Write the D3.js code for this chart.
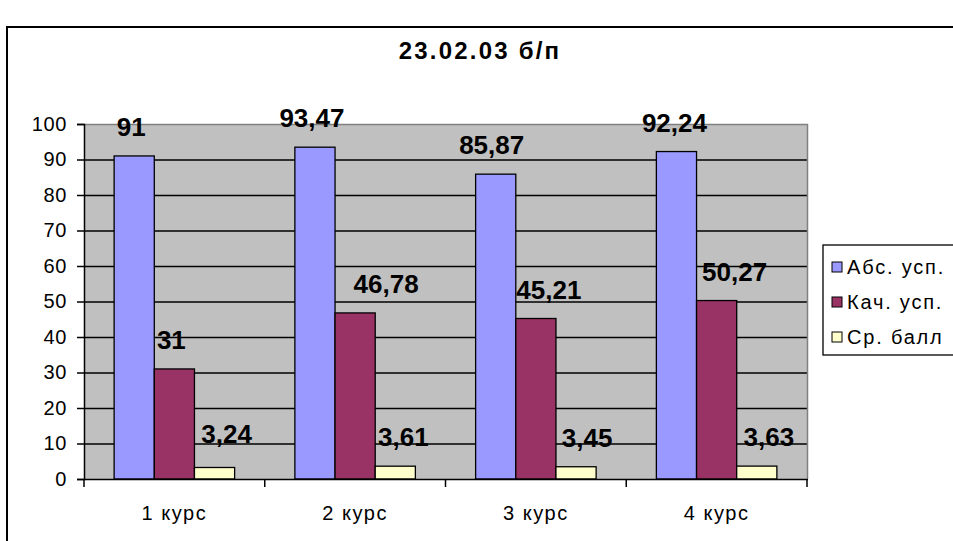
<!DOCTYPE html>
<html>
<head>
<meta charset="utf-8">
<script src="https://cdn.jsdelivr.net/npm/d3@7"></script>
<style>
  html, body { margin: 0; padding: 0; background: #fff; }
  svg { display: block; }
  text { font-family: "Liberation Sans", Arial, sans-serif; }
</style>
</head>
<body>
<svg id="chart" width="953" height="541"></svg>
<script>
const title = "23.02.03 б/п";
const categories = ["1 курс", "2 курс", "3 курс", "4 курс"];
const seriesNames = ["Абс. усп.", "Кач. усп.", "Ср. балл"];
const absValues = [91, 93.47, 85.87, 92.24];
const qualValues = [31, 46.78, 45.21, 50.27];
const avgValues = [3.24, 3.61, 3.45, 3.63];
const valueLabels = [
  ["91", "93,47", "85,87", "92,24"],
  ["31", "46,78", "45,21", "50,27"],
  ["3,24", "3,61", "3,45", "3,63"]
];
const yTicks = [0, 10, 20, 30, 40, 50, 60, 70, 80, 90, 100];
const colors = ["#9999FF", "#993366", "#FFFFCC"];
// manual label nudges (as dragged in the original)
const labelDx = [[-3, -3, -4, -2], [-3, 31, 13, 18], [12, 8, 11, 12]];
const labelDy = [[0, 0, 0, 0], [0, 0, 0, 0], [-4, 0, 0, 0]];

const seriesValues = [absValues, qualValues, avgValues];

const svg = d3.select("#chart");
const plot = { left: 84, right: 807, top: 124, bottom: 479 };

// outer frame
svg.append("rect").attr("x", 7).attr("y", 27).attr("width", 970).attr("height", 540)
  .attr("fill", "#fff").attr("stroke", "#000").attr("stroke-width", 2);

// title
svg.append("text").attr("x", 480).attr("y", 59).attr("text-anchor", "middle")
  .attr("font-size", 24).attr("font-weight", "bold").attr("letter-spacing", 2.2).text(title);

const x0 = d3.scaleBand().domain(categories).range([plot.left, plot.right]).padding(0);
const x1 = d3.scaleBand().domain(d3.range(seriesNames.length)).range([0, x0.bandwidth()])
  .paddingInner(0).paddingOuter(0.75);
const y = d3.scaleLinear().domain([0, 100]).range([plot.bottom, plot.top]);

// plot background
svg.append("rect").attr("x", plot.left).attr("y", plot.top)
  .attr("width", plot.right - plot.left).attr("height", plot.bottom - plot.top)
  .attr("fill", "#C0C0C0");

// gridlines
svg.append("g").selectAll("line").data(yTicks.filter(t => t > 0 && t < 100)).join("line")
  .attr("x1", plot.left).attr("x2", plot.right)
  .attr("y1", d => y(d) + 0.5).attr("y2", d => y(d) + 0.5)
  .attr("stroke", "#000").attr("stroke-width", 1.3);

// plot border (top, right) gray
svg.append("path")
  .attr("d", `M${plot.left},${plot.top + 0.5}H${plot.right + 0.5}V${plot.bottom}`)
  .attr("fill", "none").attr("stroke", "#808080").attr("stroke-width", 1.5);

// bars
seriesValues.forEach((vals, si) => {
  svg.append("g").selectAll("rect").data(vals).join("rect")
    .attr("x", (d, i) => x0(categories[i]) + x1(si))
    .attr("y", d => y(d))
    .attr("width", x1.bandwidth())
    .attr("height", d => y(0) - y(d))
    .attr("fill", colors[si]).attr("stroke", "#000").attr("stroke-width", 1.3);
});

// y axis
const yAxis = d3.axisLeft(y).tickValues(yTicks).tickSize(7).tickPadding(10).tickFormat(d3.format("d"));
const gy = svg.append("g").attr("transform", `translate(${plot.left},0)`).call(yAxis);
gy.select(".domain").attr("stroke", "#000").attr("stroke-width", 1.5);
gy.selectAll(".tick line").attr("stroke", "#000").attr("stroke-width", 1.5);
gy.selectAll(".tick text").attr("font-size", 20).attr("fill", "#000").attr("letter-spacing", 0.6)
  .attr("font-family", "'Liberation Sans', Arial, sans-serif");

// x axis: ticks at category boundaries
const gx = svg.append("g").attr("transform", `translate(0,${plot.bottom})`);
gx.append("line").attr("x1", plot.left).attr("x2", plot.right + 1).attr("y1", 0.5).attr("y2", 0.5)
  .attr("stroke", "#000").attr("stroke-width", 1.5);
const boundaries = categories.map(c => x0(c)).concat([x0(categories[categories.length - 1]) + x0.bandwidth()]);
gx.selectAll("line.tk").data(boundaries).join("line").attr("class", "tk")
  .attr("x1", d => d).attr("x2", d => d).attr("y1", 0).attr("y2", 8)
  .attr("stroke", "#000").attr("stroke-width", 1.5);
gx.selectAll("text").data(categories).join("text")
  .attr("x", d => x0(d) + x0.bandwidth() / 2).attr("y", 41)
  .attr("text-anchor", "middle").attr("font-size", 20).attr("letter-spacing", 1.5).text(d => d);

// value labels
seriesValues.forEach((vals, si) => {
  svg.append("g").selectAll("text").data(vals).join("text")
    .attr("x", (d, i) => x0(categories[i]) + x1(si) + x1.bandwidth() / 2 + labelDx[si][i])
    .attr("y", (d, i) => y(d) - 20 + labelDy[si][i])
    .attr("text-anchor", "middle").attr("font-size", 26).attr("font-weight", "bold")
    .text((d, i) => valueLabels[si][i]);
});

// legend
const lg = svg.append("g");
lg.append("rect").attr("x", 823).attr("y", 245).attr("width", 150).attr("height", 110)
  .attr("fill", "#fff").attr("stroke", "#000").attr("stroke-width", 1.3);
seriesNames.forEach((name, si) => {
  const cy = 267 + si * 35;
  lg.append("rect").attr("x", 832).attr("y", cy - 5).attr("width", 10).attr("height", 10)
    .attr("fill", colors[si]).attr("stroke", "#000").attr("stroke-width", 1);
  lg.append("text").attr("x", 847).attr("y", cy + 7).attr("font-size", 20).attr("letter-spacing", 1.8).text(name);
});
</script>
</body>
</html>
